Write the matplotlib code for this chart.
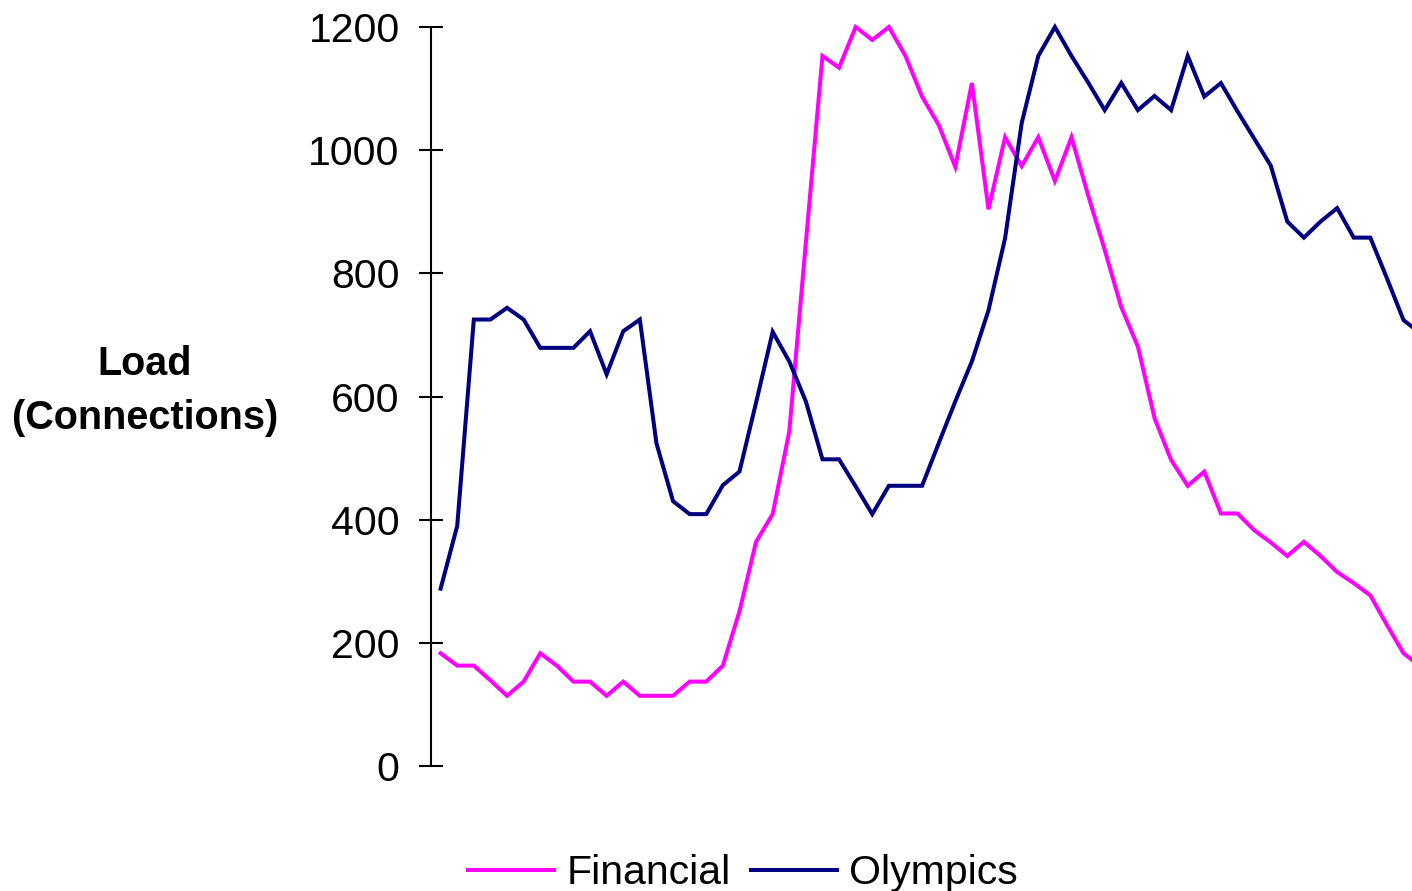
import matplotlib.pyplot as plt

# load samples, one per interval
financial = [183, 163, 163, 139, 114, 137, 183, 163, 137, 137,
             114, 137, 114, 114, 114, 137, 137, 163, 251, 364,
             409, 543, 850, 1153, 1134, 1200, 1179, 1200, 1153, 1087,
             1041, 973, 1109, 904, 1021, 974, 1021, 950, 1021, 927,
             838, 745, 681, 565, 497, 455, 478, 410, 410, 383,
             363, 341, 364, 341, 315, 297, 277, 229, 183, 162]

olympics = [288, 390, 725, 725, 744, 725, 679, 679, 679, 706,
            636, 706, 725, 524, 430, 409, 409, 456, 478, 590,
            705, 657, 592, 498, 498, 454, 409, 455, 455, 455,
            524, 592, 657, 740, 857, 1044, 1153, 1200, 1153, 1110,
            1065, 1109, 1065, 1088, 1065, 1153, 1087, 1109, 1063, 1019,
            975, 884, 858, 884, 906, 858, 858, 792, 724, 703]

yticks = [0, 200, 400, 600, 800, 1000, 1200]

plt.rcParams['font.family'] = ['Liberation Sans', 'DejaVu Sans']

fig = plt.figure(figsize=(14.12, 8.91), dpi=100)
ax = fig.add_axes([431 / 1412, 125 / 891, 981 / 1412, 739 / 891])

x = list(range(len(financial)))
ax.plot(x, financial, color='#FF00FF', lw=2.9, clip_on=False,
        solid_joinstyle='miter', label='Financial')
ax.plot(x, olympics, color='#000080', lw=2.9, clip_on=False,
        solid_joinstyle='miter', label='Olympics')

ax.set_xlim(-0.58, 58.51)
ax.set_ylim(0, 1200)
ax.set_yticks(yticks)
ax.set_xticks([])

for s in ['top', 'right', 'bottom']:
    ax.spines[s].set_visible(False)
ax.spines['left'].set_linewidth(1.5)
ax.tick_params(axis='y', direction='inout', length=17, width=1.5,
               pad=14, labelsize=29.5)

fig.text(145 / 1412, 1 - 391 / 891, 'Load\n(Connections)', ha='center',
         va='center', multialignment='center', fontsize=28.5,
         fontweight='bold', linespacing=1.55)

fig.legend(loc='center', bbox_to_anchor=(743 / 1412, 1 - 873 / 891),
           ncol=2, frameon=False, fontsize=29.5, handlelength=2.1,
           handletextpad=0.3, columnspacing=0.5, borderpad=0)

fig.savefig('out.png', dpi=100)
